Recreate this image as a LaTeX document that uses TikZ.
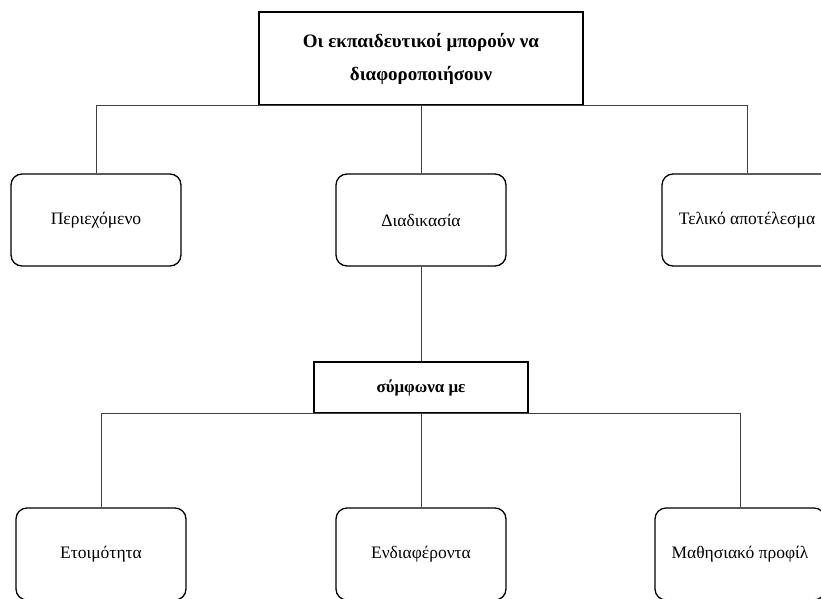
\documentclass[tikz,border=0pt]{standalone}
\usepackage{fontspec}
\setmainfont{Liberation Serif}
\begin{document}
\begin{tikzpicture}[x=1pt,y=-1pt,
  topbox/.style={draw=black,line width=1.3pt,minimum width=324pt,minimum height=93pt,align=center,font=\fontsize{19}{33}\selectfont\bfseries,inner sep=0pt},
  symbox/.style={draw=black,line width=1.3pt,minimum width=214pt,minimum height=51pt,font=\fontsize{17}{19}\selectfont\bfseries,inner sep=0pt},
  itembox/.style={draw=black,line width=1.3pt,rounded corners=11pt,minimum width=170pt,minimum height=92pt,font=\fontsize{17.5}{20}\selectfont,inner sep=0pt},
  conn/.style={draw=black!75,line width=0.8pt}]
\clip (0,0) rectangle (821,599);
\useasboundingbox (0,0) rectangle (821,599);
\node[topbox] (top) at (421,58.5) {Οι εκπαιδευτικοί μπορούν να\\διαφοροποιήσουν};
\node[itembox] (c1) at (96,220) {Περιεχόμενο};
\node[itembox] (c2) at (421,220) {Διαδικασία};
\node[itembox] (c3) at (747,220) {Τελικό αποτέλεσμα};
\node[symbox] (sym) at (421,387.5) {σύμφωνα με};
\node[itembox] (b1) at (101,554) {Ετοιμότητα};
\node[itembox] (b2) at (421,554) {Ενδιαφέροντα};
\node[itembox] (b3) at (740,554) {Μαθησιακό προφίλ};
\draw[conn] (top.south) -| (c1.north);
\draw[conn] (top.south) -| (c3.north);
\draw[conn] (top.south) -- (c2.north);
\draw[conn] (c2.south) -- (sym.north);
\draw[conn] (sym.south) -| (b1.north);
\draw[conn] (sym.south) -| (b3.north);
\draw[conn] (sym.south) -- (b2.north);
\end{tikzpicture}
\end{document}
